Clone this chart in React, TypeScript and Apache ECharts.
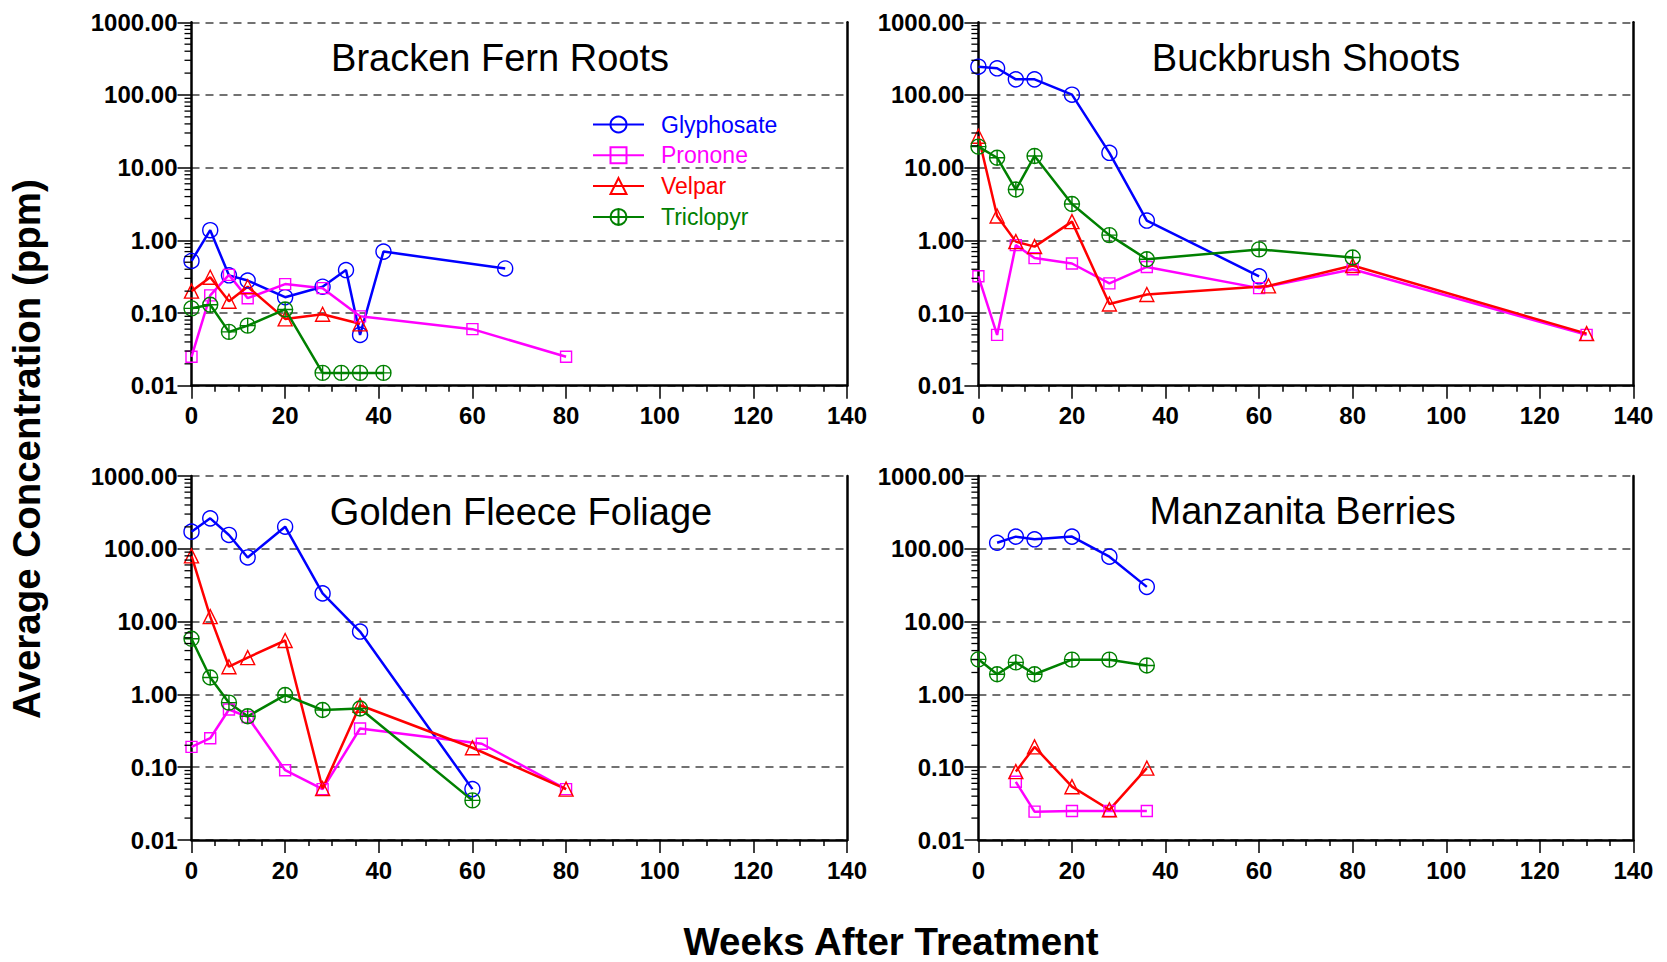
import React, { useEffect, useRef } from "react";
import * as echarts from "echarts";

const FONT = "'Liberation Sans', Arial, Helvetica, sans-serif";

const SERIES_NAMES = ["Glyphosate", "Pronone", "Velpar", "Triclopyr"];
const SERIES_COLORS = ["#0000ff", "#ff00ff", "#ff0000", "#008000"];
const PANEL_TITLES = ["Bracken Fern Roots", "Buckbrush Shoots", "Golden Fleece Foliage", "Manzanita Berries"];
const WEEK_MIN = 0;
const WEEK_MAX = 140;
const WEEK_STEP = 20;
const CONC_MIN = 0.01;
const CONC_MAX = 1000;
const MINOR_DECADES = [0.01, 0.1, 1, 10, 100];
const MINOR_MULTIPLES = [2, 3, 4, 5, 6, 7, 8, 9];

// Bracken Fern Roots
const brackenGlyWeeks = [0, 4, 8, 12, 20, 28, 33, 36, 41, 67];
const brackenGlyPpm = [0.52, 1.38, 0.33, 0.28, 0.165, 0.23, 0.39, 0.05, 0.7, 0.41];
const brackenProWeeks = [0, 4, 8, 12, 20, 28, 36, 60, 80];
const brackenProPpm = [0.025, 0.175, 0.335, 0.16, 0.25, 0.22, 0.09, 0.06, 0.025];
const brackenVelWeeks = [0, 4, 8, 12, 20, 28, 36];
const brackenVelPpm = [0.2, 0.31, 0.145, 0.23, 0.083, 0.096, 0.071];
const brackenTriWeeks = [0, 4, 8, 12, 20, 28, 32, 36, 41];
const brackenTriPpm = [0.116, 0.13, 0.055, 0.067, 0.112, 0.015, 0.015, 0.015, 0.015];

// Buckbrush Shoots
const buckGlyWeeks = [0, 4, 8, 12, 20, 28, 36, 60];
const buckGlyPpm = [245, 233, 164, 164, 101, 16, 1.87, 0.32];
const buckProWeeks = [0, 4, 8, 12, 20, 28, 36, 60, 80, 130];
const buckProPpm = [0.32, 0.05, 0.86, 0.57, 0.48, 0.256, 0.43, 0.22, 0.4, 0.05];
const buckVelWeeks = [0, 4, 8, 12, 20, 28, 36, 62, 80, 130];
const buckVelPpm = [27, 2.16, 0.96, 0.82, 1.81, 0.133, 0.18, 0.236, 0.45, 0.052];
const buckTriWeeks = [0, 4, 8, 12, 20, 28, 36, 60, 80];
const buckTriPpm = [19.5, 13.7, 5.0, 14.5, 3.16, 1.18, 0.55, 0.75, 0.58];

// Golden Fleece Foliage
const fleeceGlyWeeks = [0, 4, 8, 12, 20, 28, 36, 60];
const fleeceGlyPpm = [172, 262, 155, 76, 201, 24.4, 7.3, 0.05];
const fleeceProWeeks = [0, 4, 8, 12, 20, 28, 36, 62, 80];
const fleeceProPpm = [0.19, 0.25, 0.62, 0.49, 0.091, 0.05, 0.34, 0.21, 0.05];
const fleeceVelWeeks = [0, 4, 8, 12, 20, 28, 36, 60, 80];
const fleeceVelPpm = [80, 11.7, 2.4, 3.2, 5.5, 0.051, 0.71, 0.185, 0.05];
const fleeceTriWeeks = [0, 4, 8, 12, 20, 28, 36, 60];
const fleeceTriPpm = [5.8, 1.71, 0.77, 0.5, 0.98, 0.61, 0.64, 0.035];

// Manzanita Berries
const manzGlyWeeks = [4, 8, 12, 20, 28, 36];
const manzGlyPpm = [121, 147, 135, 147, 78, 30];
const manzProWeeks = [8, 12, 20, 28, 36];
const manzProPpm = [0.063, 0.0245, 0.025, 0.025, 0.025];
const manzVelWeeks = [8, 12, 20, 28, 36];
const manzVelPpm = [0.087, 0.19, 0.054, 0.026, 0.097];
const manzTriWeeks = [0, 4, 8, 12, 20, 28, 36];
const manzTriPpm = [3.03, 1.89, 2.75, 1.89, 3.0, 3.0, 2.5];

const PANEL_DATA = [
  [[brackenGlyWeeks, brackenGlyPpm], [brackenProWeeks, brackenProPpm], [brackenVelWeeks, brackenVelPpm], [brackenTriWeeks, brackenTriPpm]],
  [[buckGlyWeeks, buckGlyPpm], [buckProWeeks, buckProPpm], [buckVelWeeks, buckVelPpm], [buckTriWeeks, buckTriPpm]],
  [[fleeceGlyWeeks, fleeceGlyPpm], [fleeceProWeeks, fleeceProPpm], [fleeceVelWeeks, fleeceVelPpm], [fleeceTriWeeks, fleeceTriPpm]],
  [[manzGlyWeeks, manzGlyPpm], [manzProWeeks, manzProPpm], [manzVelWeeks, manzVelPpm], [manzTriWeeks, manzTriPpm]],
];

const CROSS_CIRCLE = "path://M2,12 A10,10 0 1 1 22,12 A10,10 0 1 1 2,12 Z M2,12 L22,12 M12,2 L12,22";
const SYMBOLS = ["circle", "rect", "triangle", CROSS_CIRCLE];
const SYMBOL_SIZES = [15, 11, 14, 15];

const GRIDS = [
  { left: 191.5, top: 22.3, width: 655.5, height: 363.4 },
  { left: 978.4, top: 22.3, width: 655, height: 363.4 },
  { left: 191.5, top: 476, width: 655.5, height: 364 },
  { left: 978.4, top: 476, width: 655, height: 364 },
];
const TITLE_POS = [
  [500, 57.8],
  [1306, 57.8],
  [521, 511.7],
  [1302.6, 511],
];

function buildOption() {
  const minorValues: number[] = [];
  MINOR_DECADES.forEach((d) => MINOR_MULTIPLES.forEach((m) => minorValues.push(m * d)));

  const grid = GRIDS.map((g) => ({ ...g, containLabel: false }));
  const xAxis = GRIDS.map((_, i) => ({
    type: "value",
    gridIndex: i,
    min: WEEK_MIN,
    max: WEEK_MAX,
    interval: WEEK_STEP,
    axisLine: { show: true, onZero: false, lineStyle: { color: "#000", width: 2.5 } },
    axisTick: { show: true, length: 13, lineStyle: { color: "#000", width: 1.5 } },
    minorTick: { show: true, splitNumber: 4, length: 6, lineStyle: { color: "#000", width: 1.5 } },
    splitLine: { show: false },
    axisLabel: { fontSize: 24, fontWeight: "bold", color: "#000", fontFamily: FONT, margin: 18 },
  }));
  const yAxis: any[] = [];
  GRIDS.forEach((_, i) => {
    yAxis.push({
      type: "log",
      logBase: 10,
      gridIndex: i,
      min: CONC_MIN,
      max: CONC_MAX,
      axisLine: { show: true, onZero: false, lineStyle: { color: "#000", width: 2.5 } },
      axisTick: { show: true, length: 14, lineStyle: { color: "#000", width: 1.5 } },
      splitLine: { show: true, lineStyle: { color: "#444", width: 1.5, type: [8, 6] } },
      axisLabel: {
        fontSize: 24,
        fontWeight: "bold",
        color: "#000",
        fontFamily: FONT,
        margin: 14,
        formatter: (v: number) => Number(v).toFixed(2),
      },
    });
    yAxis.push({
      type: "value",
      gridIndex: i,
      position: "right",
      min: 0,
      max: 1,
      axisLine: { show: true, onZero: false, lineStyle: { color: "#000", width: 2.5 } },
      axisTick: { show: false },
      axisLabel: { show: false },
      splitLine: { show: false },
    });
  });

  const series: any[] = [];
  PANEL_DATA.forEach((panel, pi) => {
    panel.forEach(([weeks, vals], si) => {
      series.push({
        type: "line",
        name: SERIES_NAMES[si],
        xAxisIndex: pi,
        yAxisIndex: pi * 2,
        data: weeks.map((w, k) => [w, vals[k]]),
        symbol: SYMBOLS[si],
        symbolSize: SYMBOL_SIZES[si],
        showSymbol: true,
        clip: false,
        lineStyle: { color: SERIES_COLORS[si], width: 2.5 },
        itemStyle: { color: "rgba(0,0,0,0)", borderColor: SERIES_COLORS[si], borderWidth: 1.4 },
        z: 3,
      });
    });
    series.push({
      type: "custom",
      xAxisIndex: pi,
      yAxisIndex: pi * 2,
      silent: true,
      clip: false,
      z: 4,
      data: minorValues.map((v) => [WEEK_MIN, v]),
      renderItem: (params: any, api: any) => {
        const p = api.coord([WEEK_MIN, api.value(1)]);
        return {
          type: "line",
          shape: { x1: p[0] - 7, y1: p[1], x2: p[0], y2: p[1] },
          style: { stroke: "#000", lineWidth: 1.3 },
        };
      },
    });
  });

  const graphic: any[] = PANEL_TITLES.map((t, i) => ({
    type: "text",
    x: TITLE_POS[i][0],
    y: TITLE_POS[i][1],
    style: { text: t, fontSize: 38, fontFamily: FONT, fill: "#000", align: "center", verticalAlign: "middle" },
  }));
  graphic.push({
    type: "text",
    x: 26.5,
    y: 449,
    rotation: Math.PI / 2,
    style: {
      text: "Average Concentration (ppm)",
      fontSize: 38.5,
      fontWeight: "bold",
      fontFamily: FONT,
      fill: "#000",
      align: "center",
      verticalAlign: "middle",
    },
  });
  graphic.push({
    type: "text",
    x: 891,
    y: 941,
    style: {
      text: "Weeks After Treatment",
      fontSize: 38.5,
      fontWeight: "bold",
      fontFamily: FONT,
      fill: "#000",
      align: "center",
      verticalAlign: "middle",
    },
  });

  return {
    animation: false,
    backgroundColor: "#fff",
    grid,
    xAxis,
    yAxis,
    series,
    graphic,
    legend: {
      show: true,
      orient: "vertical",
      left: 592,
      top: 113,
      padding: 0,
      itemWidth: 51,
      itemHeight: 20,
      itemGap: 7.8,
      selectedMode: false,
      textStyle: { fontSize: 23, fontFamily: FONT, padding: [0, 0, 0, 12] },
      data: SERIES_NAMES.map((n, i) => ({ name: n, textStyle: { color: SERIES_COLORS[i] } })),
    },
  };
}

export default function App() {
  const ref = useRef<HTMLDivElement>(null);
  useEffect(() => {
    document.body.style.margin = "0";
    const chart = echarts.init(ref.current as HTMLDivElement, undefined, { renderer: "svg" });
    chart.setOption(buildOption() as any);
    return () => chart.dispose();
  }, []);
  return <div ref={ref} style={{ width: 1667, height: 962, overflow: "hidden" }} />;
}
